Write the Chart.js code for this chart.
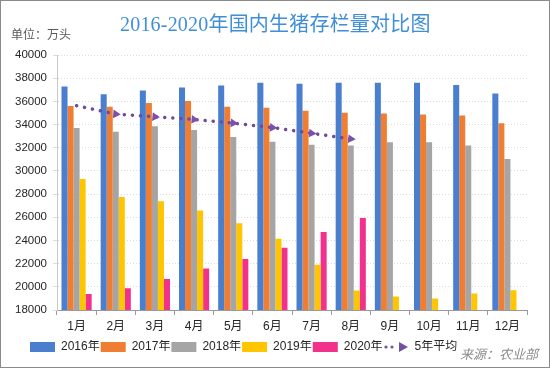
<!DOCTYPE html>
<html>
<head>
<meta charset="utf-8">
<script src="https://cdn.jsdelivr.net/npm/chart.js@4"></script>
<style>
  body { margin: 0; background: #fff; }
  #wrap { position: relative; width: 548px; height: 366px; border: 1px solid #8a8a8a; background: #fff; overflow: hidden; }
  #title { position: absolute; left: 119px; top: 7px; font-family: "Liberation Serif", "Noto Sans CJK SC", serif; font-size: 20px; letter-spacing: 0.2px; color: #3f8fd8; white-space: nowrap; }
  #unit { position: absolute; left: 10px; top: 24px; font-family: "Noto Sans CJK SC", sans-serif; font-size: 12px; color: #595959; }
  #source { position: absolute; left: 459px; top: 343px; font-family: "Noto Sans CJK SC", sans-serif; font-size: 13px; font-style: italic; color: #8c8c8c; }
  #c { position: absolute; left: 0; top: 0; }
</style>
</head>
<body>
<div id="wrap">
  <canvas id="c" width="548" height="366"></canvas>
  <div id="title">2016-2020年国内生猪存栏量对比图</div>
  <div id="unit">单位：万头</div>
  <div id="source">来源：农业部</div>
</div>
<script>
var months = ['1月','2月','3月','4月','5月','6月','7月','8月','9月','10月','11月','12月'];
var y2016 = [37280,36610,36930,37190,37370,37600,37510,37600,37600,37600,37420,36670];
var y2017 = [35600,35540,35860,36030,35540,35450,35190,35020,34960,34870,34790,34120];
var y2018 = [33710,33370,33860,33540,32930,32520,32260,32200,32470,32470,32200,31020];
var y2019 = [29310,27740,27390,26580,25480,24150,21910,19680,19160,18990,19420,19710];
var y2020 = [19390,19880,20670,21570,22410,23360,24730,25940];
var avg5 = [35630,34900,34670,34440,34120,33740,33250,32760];

var font = '"Liberation Sans", "Noto Sans CJK SC", sans-serif';

// legend icon for the dotted arrow line
var lineIcon = document.createElement('canvas');
lineIcon.width = 26; lineIcon.height = 12;
(function(){
    var g = lineIcon.getContext('2d');
    g.fillStyle = '#7451a0';
    g.beginPath(); g.arc(3, 6, 1.6, 0, Math.PI*2); g.fill();
    g.beginPath(); g.arc(9, 6, 1.6, 0, Math.PI*2); g.fill();
    g.beginPath(); g.moveTo(16, 1); g.lineTo(25, 6); g.lineTo(16, 11); g.closePath(); g.fill();
})();

function bar(label, data, color) {
    return {
        type: 'bar', label: label, data: data,
        backgroundColor: color, borderWidth: 0,
        categoryPercentage: 0.77, barPercentage: 1.0, order: 2
    };
}

var ptRadius = avg5.map(function(v, i){ return i === 0 ? 0 : 5; });

// nudge the legend to the right a little, like the original
var legendShift = {
    id: 'legendShift',
    afterLayout: function(chart) {
        chart.legend.left += 18;
        chart.legend.right += 18;
    }
};

new Chart(document.getElementById('c'), {
    data: {
        labels: months,
        datasets: [
            bar('2016年', y2016, '#4a7fd0'),
            bar('2017年', y2017, '#f07e32'),
            bar('2018年', y2018, '#a5a5a5'),
            bar('2019年', y2019, '#ffc600'),
            bar('2020年', y2020, '#f2318c'),
            {
                type: 'line', label: '5年平均', data: avg5,
                borderColor: '#6e4c9c', borderWidth: 3.5, borderDash: [0.1, 8], borderCapStyle: 'round',
                pointStyle: 'triangle', pointRotation: 95, pointRadius: ptRadius,
                pointBackgroundColor: '#7a50ad', pointBorderWidth: 0, fill: false, order: 1
            }
        ]
    },
    plugins: [legendShift],
    options: {
        responsive: false,
        animation: false,
        layout: { padding: { left: 10, right: 22, top: 54, bottom: 4 } },
        plugins: {
            tooltip: { enabled: false },
            legend: {
                position: 'bottom',
                align: 'start',
                labels: {
                    font: { family: font, size: 12 },
                    color: '#262626',
                    usePointStyle: true,
                    pointStyleWidth: 25,
                    boxHeight: 10,
                    padding: 1,
                    generateLabels: function(chart) {
                        return chart.data.datasets.map(function(ds, i) {
                            return {
                                text: ds.label,
                                fillStyle: ds.type === 'line' ? '#7451a0' : ds.backgroundColor,
                                strokeStyle: 'rgba(0,0,0,0)',
                                lineWidth: 0,
                                pointStyle: ds.type === 'line' ? lineIcon : 'rect',
                                datasetIndex: i,
                                fontColor: '#262626'
                            };
                        });
                    }
                }
            }
        },
        scales: {
            x: {
                offset: true,
                afterFit: function(scale) { scale.height = 30; },
                grid: { offset: true, drawOnChartArea: false, color: '#9a9a9a', tickLength: 5 },
                border: { color: '#9a9a9a' },
                ticks: { font: { family: font, size: 12 }, color: '#262626', padding: 4 }
            },
            y: {
                min: 18000, max: 40000,
                afterFit: function(scale) { scale.width = 46; },
                ticks: {
                    stepSize: 2000, font: { family: font, size: 11.5 }, color: '#262626', padding: 6,
                    callback: function(v) { return String(v); }
                },
                grid: { color: '#dcdcdc', tickLength: 4, lineWidth: 1 },
                border: { color: '#c8c8c8', dash: [1, 2] }
            }
        }
    }
});
</script>
</body>
</html>
